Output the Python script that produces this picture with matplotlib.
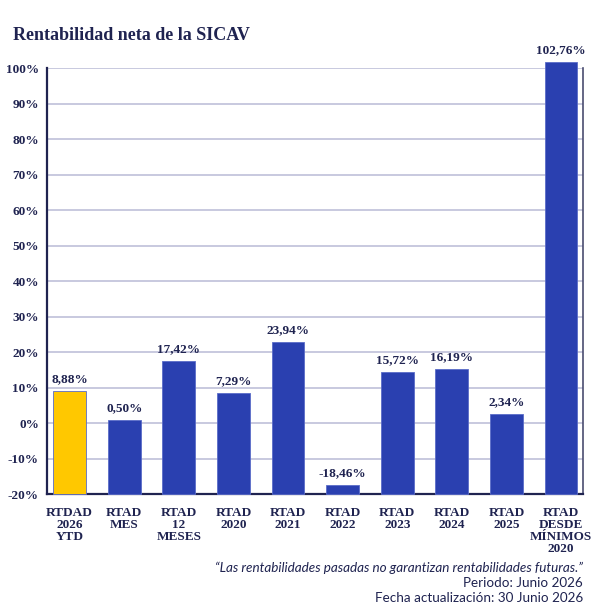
import matplotlib.pyplot as plt
import numpy as np

categories = ["RTDAD\n2026\nYTD", "RTAD\nMES", "RTAD\n12\nMESES", "RTAD\n2020", "RTAD\n2021",
              "RTAD\n2022", "RTAD\n2023", "RTAD\n2024", "RTAD\n2025", "RTAD\nDESDE\nMÍNIMOS\n2020"]
bar_values = [9.1, 0.85, 17.5, 8.5, 23.0, -17.4, 14.5, 15.2, 2.5, 101.8]
value_labels = ["8,88%", "0,50%", "17,42%", "7,29%", "23,94%", "-18,46%",
                "15,72%", "16,19%", "2,34%", "102,76%"]
yticks = [-20, -10, 0, 10, 20, 30, 40, 50, 60, 70, 80, 90, 100]

navy = "#1f2350"
blue = "#2a40b0"
yellow = "#ffc800"
grid = "#b9bad6"
serif = "Liberation Serif"

fig = plt.figure(figsize=(6.1, 6.1), dpi=100)
ax = fig.add_axes([0.0775, 0.19, 0.879, 0.698])

ymin, ymax = -20, 100
x = np.arange(len(categories))
colors = [yellow] + [blue] * (len(categories) - 1)
heights = [v - ymin for v in bar_values]
bars = ax.bar(x, heights, bottom=ymin, width=0.6, color=colors, edgecolor="#5a6cc8",
              linewidth=0.6, zorder=3, clip_on=False)

for xi, v, lab in zip(x, bar_values, value_labels):
    ax.text(xi, v + 1.6, lab, ha="center", va="bottom", fontsize=9.5, fontweight="bold",
            family=serif, color=navy)

ax.set_ylim(ymin, ymax)
ax.set_xlim(-0.41, len(categories) - 1 + 0.41)
ax.set_yticks(yticks)
ax.set_yticklabels([f"{t}%" for t in yticks], family=serif, fontweight="bold", fontsize=9.5, color=navy)
ax.set_xticks(x)
ax.set_xticklabels(categories, family=serif, fontweight="bold", fontsize=9.5, color=navy,
                   linespacing=1.02)
ax.tick_params(axis="both", length=0, pad=6)
ax.tick_params(axis="x", pad=9)

ax.yaxis.grid(True, color=grid, linewidth=1.1, zorder=0)
ax.set_axisbelow(True)
ax.spines["top"].set_visible(False)
ax.spines["left"].set_color(navy)
ax.spines["left"].set_linewidth(1.6)
ax.spines["bottom"].set_color(navy)
ax.spines["bottom"].set_linewidth(1.6)
ax.spines["right"].set_color("#4a4d70")
ax.spines["right"].set_linewidth(1.2)

fig.text(0.021, 0.942, "Rentabilidad neta de la SICAV", family=serif, fontweight="bold",
         fontsize=13, color=navy, va="center")

foot_x = 0.956
fig.text(foot_x, 0.070, "\u201cLas rentabilidades pasadas no garantizan rentabilidades futuras.\u201d",
         family="Lato", style="italic", fontsize=9.7, color=navy, ha="right", va="center")
fig.text(foot_x, 0.044, "Periodo: Junio 2026", family="Lato", fontsize=9.7, color=navy,
         ha="right", va="center")
fig.text(foot_x, 0.019, "Fecha actualización: 30 Junio 2026", family="Lato", fontsize=9.7,
         color=navy, ha="right", va="center")

fig.savefig("out.png", dpi=100, facecolor="white")
